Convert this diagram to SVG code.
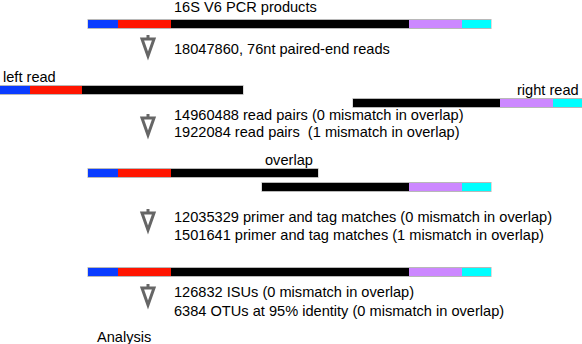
<svg xmlns="http://www.w3.org/2000/svg" width="582" height="344" viewBox="0 0 582 344">
<defs>
<style>
text{font-family:"Liberation Sans",Arial,sans-serif;font-size:14.6px;fill:#000}
.b{fill:#0a3cff}.r{fill:#ff1500}.k{fill:#000}.p{fill:#cc88ff}.c{fill:#00ffff}
.ol{fill:none;stroke:#b8b8b8;stroke-width:1}
.ar{fill:none;stroke:#666;stroke-width:3;stroke-linejoin:miter}
</style>
<g id="arrow">
<path class="ar" d="M-6,0 H6 L0,17 Z"/>
<path class="ar" d="M0,-4 V0" stroke-width="2"/>
</g>
</defs>
<rect width="582" height="344" fill="#fff"/>

<g id="pcr-product">
<text x="174" y="12">16S V6 PCR products</text>
<rect class="ol" x="88" y="19.5" width="403" height="9"/>
<rect class="b" x="88" y="20" width="30" height="8"/>
<rect class="r" x="118" y="20" width="53" height="8"/>
<rect class="k" x="171" y="20" width="238" height="8"/>
<rect class="p" x="409" y="20" width="53" height="8"/>
<rect class="c" x="462" y="20" width="29" height="8"/>
</g>

<g id="step1">
<use href="#arrow" x="148" y="39"/>
<text x="174" y="54">18047860, 76nt paired-end reads</text>
</g>

<g id="left-read">
<text x="3" y="82">left read</text>
<rect class="ol" x="0" y="85.5" width="243" height="9"/>
<rect class="b" x="0" y="86" width="30" height="8"/>
<rect class="r" x="30" y="86" width="52" height="8"/>
<rect class="k" x="82" y="86" width="161" height="8"/>
</g>

<g id="right-read">
<text x="517" y="95">right read</text>
<rect class="ol" x="353" y="98.5" width="229" height="9"/>
<rect class="k" x="353" y="99" width="147" height="8"/>
<rect class="p" x="500" y="99" width="53" height="8"/>
<rect class="c" x="553" y="99" width="29" height="8"/>
</g>

<g id="step2">
<use href="#arrow" x="148" y="118"/>
<text x="174" y="120">14960488 read pairs (0 mismatch in overlap)</text>
<text x="174" y="137" xml:space="preserve">1922084 read pairs  (1 mismatch in overlap)</text>
</g>

<g id="overlap">
<text x="265" y="165">overlap</text>
<rect class="ol" x="88" y="168.5" width="230" height="9"/>
<rect class="b" x="88" y="169" width="30" height="8"/>
<rect class="r" x="118" y="169" width="53" height="8"/>
<rect class="k" x="171" y="169" width="147" height="8"/>
<rect class="ol" x="262" y="182.5" width="229" height="9"/>
<rect class="k" x="262" y="183" width="147" height="8"/>
<rect class="p" x="409" y="183" width="53" height="8"/>
<rect class="c" x="462" y="183" width="29" height="8"/>
</g>

<g id="step3">
<use href="#arrow" x="148" y="213"/>
<text x="174" y="222">12035329 primer and tag matches (0 mismatch in overlap)</text>
<text x="174" y="240">1501641 primer and tag matches (1 mismatch in overlap)</text>
</g>

<g id="final-product">
<rect class="ol" x="88" y="267.5" width="403" height="9"/>
<rect class="b" x="88" y="268" width="30" height="8"/>
<rect class="r" x="118" y="268" width="53" height="8"/>
<rect class="k" x="171" y="268" width="238" height="8"/>
<rect class="p" x="409" y="268" width="53" height="8"/>
<rect class="c" x="462" y="268" width="29" height="8"/>
</g>

<g id="step4">
<use href="#arrow" x="148" y="288"/>
<text x="174" y="297">126832 ISUs (0 mismatch in overlap)</text>
<text x="174" y="316">6384 OTUs at 95% identity (0 mismatch in overlap)</text>
</g>

<g id="analysis">
<text x="97" y="342">Analysis</text>
</g>
</svg>
